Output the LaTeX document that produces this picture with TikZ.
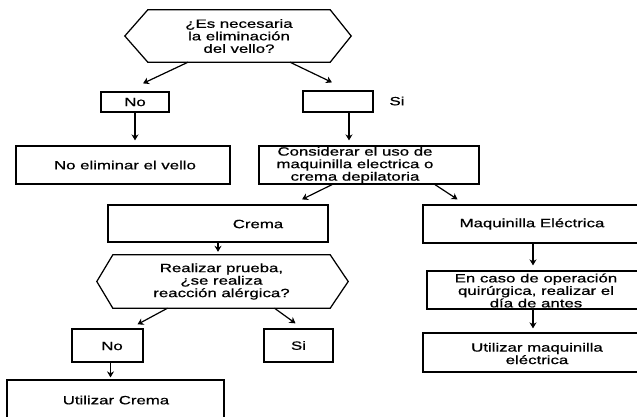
\documentclass[tikz,border=0pt]{standalone}
\usepackage{fontspec}
\setmainfont{Liberation Sans}[FakeStretch=1.4,FakeBold=0.7]
\usetikzlibrary{arrows.meta,calc}

\tikzset{
  box/.style={draw=black, line width=1.25pt, inner sep=0pt, align=center,
              font=\fontsize{12}{12.5}\selectfont},
  txt/.style={inner sep=0pt, align=center, font=\fontsize{12}{12.5}\selectfont},
  hexnode/.style={inner sep=0pt, align=center, font=\fontsize{12}{12.5}\selectfont},
  hexline/.style={draw=black, line width=1.25pt, line join=miter},
  arr/.style={draw=black, line width=1.2pt, -{Stealth[length=6pt,width=7pt]}}
}

\begin{document}
\begin{tikzpicture}[x=1pt,y=-1pt]
  \useasboundingbox (0,0) rectangle (637,416);
  \fill[white] (0,0) rectangle (637,416);
  \clip (0,0) rectangle (637,416);

  % first question
  \node[hexnode, minimum width=182pt, minimum height=52pt] (q1) at (239,36)
    {¿Es necesaria\\la eliminación\\del vello?};
  \draw[hexline] (q1.north west) -- (q1.north east) -- ($(q1.east)+(21,0)$)
    -- (q1.south east) -- (q1.south west) -- ($(q1.west)+(-23,0)$) -- cycle;

  % answers to the first question
  \node[box, minimum width=68pt, minimum height=20pt] (noA) at (135,102) {No};
  \node[box, minimum width=70pt, minimum height=21pt] (siA) at (338,101.5) {};
  \node[txt] (siAl) at (397,101) {Si};

  \coordinate (q1l) at ($(q1.south)+(-51,0)$);
  \coordinate (q1r) at ($(q1.south)+(51,0)$);
  \coordinate (noAin) at ($(noA.north)+(8,-8)$);
  \coordinate (siAin) at ($(siA.north)+(-6,-8)$);
  \draw[arr] (q1l) -- (noAin);
  \draw[arr] (q1r) -- (siAin);

  % second row
  \node[box, minimum width=214pt, minimum height=38pt] (noelim) at (123,165) {};
  \node[txt] (noelimt) at (125,165) {No eliminar el vello};
  \node[box, minimum width=220pt, minimum height=38pt] (consid) at (369,165) {};
  \node[txt] (considt) at (355,165)
    {Considerar el uso de\\maquinilla electrica o\\crema depilatoria};

  \draw[arr, shorten >=5pt] (noA.south) -- (noA.south |- noelim.north);
  \coordinate (siAout) at ($(siA.south)+(11,0)$);
  \draw[arr, shorten >=5pt] (siAout) -- (siAout |- consid.north);

  % third row
  \node[box, minimum width=220pt, minimum height=37pt] (crema) at (218,223.5) {};
  \node[txt] (cremat) at (258,224) {Crema};
  \node[box, minimum width=227pt, minimum height=38pt] (maq) at (536.5,224) {};
  \node[txt] (maqt) at (532,224) {Maquinilla Eléctrica};

  \coordinate (consl) at ($(consid.south)+(-37,0)$);
  \coordinate (consr) at ($(consid.south)+(66,0)$);
  \coordinate (cremain) at ($(crema.north)+(84,-5)$);
  \coordinate (maqin) at ($(maq.north)+(-79,-5)$);
  \draw[arr] (consl) -- (cremain);
  \draw[arr] (consr) -- (maqin);

  % second question
  \node[hexnode, minimum width=217pt, minimum height=53pt] (q2) at (221.5,281.5)
    {Realizar prueba,\\¿se realiza\\reacción alérgica?};
  \draw[hexline] (q2.north west) -- (q2.north east) -- ($(q2.east)+(18,0)$)
    -- (q2.south east) -- (q2.south west) -- ($(q2.west)+(-16,0)$) -- cycle;

  \draw[arr, shorten >=3pt] (crema.south) -- (crema.south |- q2.north);

  % answers to the second question
  \node[box, minimum width=71pt, minimum height=33pt] (noB) at (107.5,345.5) {};
  \node[txt] (noBt) at (112,346) {No};
  \node[box, minimum width=69pt, minimum height=33pt] (siB) at (298.5,345.5) {Si};

  \coordinate (q2l) at ($(q2.south)+(-54,0)$);
  \coordinate (q2r) at ($(q2.south)+(53,0)$);
  \coordinate (noBin) at ($(noB.north)+(30,-4)$);
  \coordinate (siBin) at ($(siB.north)+(-3,-5)$);
  \draw[arr] (q2l) -- (noBin);
  \draw[arr] (q2r) -- (siBin);

  % final steps
  \node[box, minimum width=217pt, minimum height=50pt] (ucrema) at (115.5,405) {};
  \node[txt] (ucremat) at (116,400) {Utilizar Crema};

  \coordinate (noBout) at ($(noB.south)+(3,0)$);
  \draw[arr, shorten >=2pt] (noBout) -- (noBout |- ucrema.north);

  \node[box, minimum width=223pt, minimum height=38pt] (caso) at (538.5,290) {};
  \node[txt] (casot) at (536,290.5)
    {En caso de operación\\quirúrgica, realizar el\\día de antes};
  \node[box, minimum width=227pt, minimum height=39pt] (umaq) at (536.5,352.5) {};
  \node[txt] (umaqt) at (537,353.5) {Utilizar maquinilla\\eléctrica};

  \coordinate (maqout) at ($(maq.south)+(-3.5,0)$);
  \draw[arr, shorten >=5pt] (maqout) -- (maqout |- caso.north);
  \coordinate (casoout) at ($(caso.south)+(-5.5,0)$);
  \draw[arr, shorten >=4pt] (casoout) -- (casoout |- umaq.north);
\end{tikzpicture}
\end{document}
